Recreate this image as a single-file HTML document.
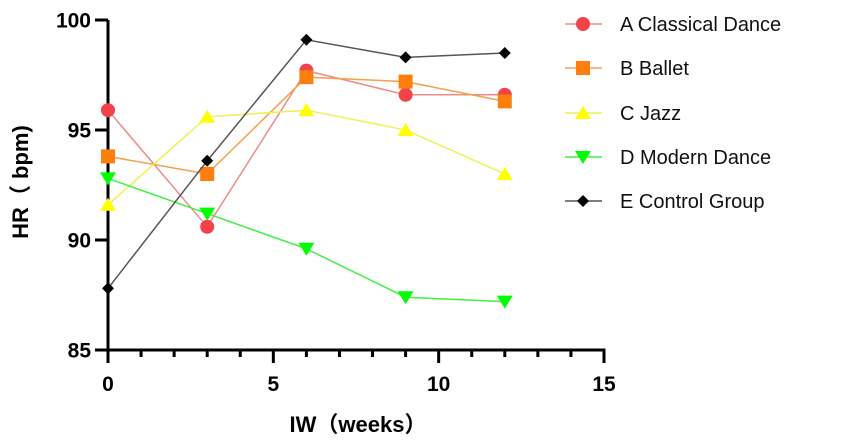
<!DOCTYPE html>
<html><head><meta charset="utf-8"><style>
html,body{margin:0;padding:0;background:#fff;}
svg{display:block;font-family:"Liberation Sans",Arial,"Noto Sans CJK SC",sans-serif;}
</style></head><body>
<svg id="chart" width="851" height="445" viewBox="0 0 851 445" xmlns="http://www.w3.org/2000/svg">
<g id="axes"></g>
<g id="series"></g>
<g id="legend"></g>
<text x="28" y="182" transform="rotate(-90 28 182)" text-anchor="middle" font-size="22" font-weight="bold" fill="#000">HR（ bpm)</text>
<text x="358" y="432" text-anchor="middle" font-size="22" font-weight="bold" fill="#000">IW（weeks）</text>
</svg>
<script>
const weeks = [0, 3, 6, 9, 12];
const seriesNames = ["A Classical Dance", "B Ballet", "C Jazz", "D Modern Dance", "E Control Group"];
const seriesA = [95.9, 90.6, 97.7, 96.6, 96.6];
const seriesB = [93.8, 93.0, 97.4, 97.2, 96.3];
const seriesC = [91.6, 95.6, 95.9, 95.0, 93.0];
const seriesD = [92.8, 91.2, 89.6, 87.4, 87.2];
const seriesE = [87.8, 93.6, 99.1, 98.3, 98.5];
const xTicks = [0, 5, 10, 15];
const yTicks = [85, 90, 95, 100];

const NS = "http://www.w3.org/2000/svg";
const X0 = 108, X1 = 604, Y0 = 350, Y1 = 20;
const xs = v => X0 + (v - 0) / 15 * (X1 - X0);
const ys = v => Y0 - (v - 85) / 15 * (Y0 - Y1);
function mk(tag, attrs, parent) { const e = document.createElementNS(NS, tag); for (const k in attrs) e.setAttribute(k, attrs[k]); parent.appendChild(e); return e; }

const axes = document.getElementById('axes');
let el = mk('line', {x1: X0, y1: Y1, x2: X0, y2: Y0 + 1.5, stroke: '#000', 'stroke-width': 3}, axes);


el = mk('line', {x1: X0 - 1.5, y1: Y0, x2: X1 + 1.5, y2: Y0, stroke: '#000', 'stroke-width': 3}, axes);


for (const t of yTicks) {
  el = mk('line', {x1: X0 - 13, y1: ys(t), x2: X0, y2: ys(t), stroke: '#000', 'stroke-width': 3}, axes);
  
  
  el = mk('text', {x: X0 - 17, y: ys(t) + 7.5, 'text-anchor': 'end', 'font-size': 21, 'font-weight': 'bold'}, axes);
  el.textContent = t;
  
  
}
for (let t = 0; t <= 15; t++) {
  const major = xTicks.includes(t);
  el = mk('line', {x1: xs(t), y1: Y0, x2: xs(t), y2: Y0 + (major ? 13 : 7), stroke: '#000', 'stroke-width': 3}, axes);
  
  
}
for (const t of xTicks) {
  el = mk('text', {x: xs(t), y: Y0 + 41, 'text-anchor': 'middle', 'font-size': 21, 'font-weight': 'bold'}, axes);
  el.textContent = t;
  
  
}

const styles = [
  {line: '#f08a8a', fill: '#f2434b', shape: 'circle'},
  {line: '#f5a04a', fill: '#ff7f0e', shape: 'square'},
  {line: '#f0f050', fill: '#ffff00', shape: 'tri'},
  {line: '#40f040', fill: '#00ff00', shape: 'tridown'},
  {line: '#555', fill: '#000', shape: 'diamond'}
];
const allSeries = [seriesA, seriesB, seriesC, seriesD, seriesE];
function marker(shape, x, y, fill, parent) {
  let m;
  if (shape === 'circle') m = mk('circle', {cx: x, cy: y, r: 7, fill}, parent);
  else if (shape === 'square') m = mk('rect', {x: x - 7, y: y - 7, width: 14, height: 14, fill}, parent);
  else if (shape === 'tri') m = mk('polygon', {points: `${x},${y-7} ${x-8},${y+6} ${x+8},${y+6}`, fill}, parent);
  else if (shape === 'tridown') m = mk('polygon', {points: `${x},${y+7} ${x-8},${y-6} ${x+8},${y-6}`, fill}, parent);
  else m = mk('polygon', {points: `${x},${y-6} ${x+6},${y} ${x},${y+6} ${x-6},${y}`, fill}, parent);
  return m;
}
const sg = document.getElementById('series');
allSeries.forEach((vals, i) => {
  const g = mk('g', {}, sg);
  
  
  const pts = vals.map((v, j) => xs(weeks[j]) + ',' + ys(v)).join(' ');
  const pl = mk('polyline', {points: pts, fill: 'none', stroke: styles[i].line, 'stroke-width': 1.5}, g);
  
  
  vals.forEach((v, j) => {
    const m = marker(styles[i].shape, xs(weeks[j]), ys(v), styles[i].fill, g);
    
    
  });
});

const lg = document.getElementById('legend');
const rowsY = [24, 68, 113, 157, 201];
seriesNames.forEach((n, i) => {
  const g = mk('g', {}, lg);
  
  
  const y = rowsY[i];
  mk('line', {x1: 565, y1: y, x2: 602, y2: y, stroke: styles[i].line, 'stroke-width': 1.5}, g);
  marker(styles[i].shape, 583, y, styles[i].fill, g);
  const t = mk('text', {x: 620, y: y + 7, 'font-size': 20, fill: '#111'}, g);
  t.textContent = n;
});
</script>
</body></html>
